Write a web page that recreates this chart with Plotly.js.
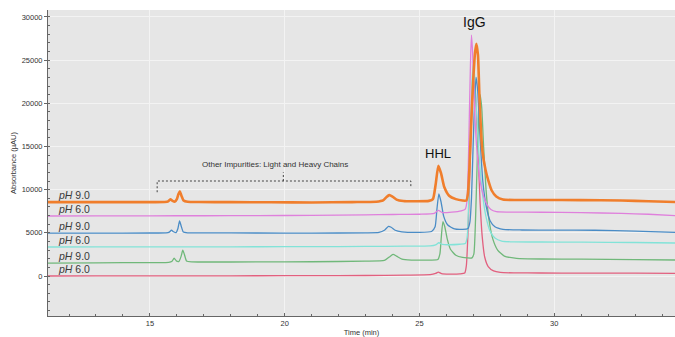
<!DOCTYPE html>
<html>
<head>
<meta charset="utf-8">
<script src="https://cdn.plot.ly/plotly-3.0.1.min.js"></script>
<style>html,body{margin:0;padding:0;background:#fff;}#chart{width:675px;height:337px;}</style>
</head>
<body>
<div id="chart"></div>
<script>
// Time (min) and absorbance (µAU) arrays
var tRed = [11.2, 13, 15, 17, 19, 21, 23, 24.5, 25.4, 25.6, 25.7, 25.82, 26.1, 26.5, 26.68, 26.74, 26.8, 26.86, 26.92, 26.98, 27.04, 27.1, 27.17, 27.25, 27.33, 27.42, 27.55, 27.75, 28.0, 28.5, 29.5, 31, 33, 34.5];
var vRed = [0, 10, 20, 20, 30, 40, 60, 100, 150, 300, 450, 280, 220, 250, 350, 1200, 5000, 11000, 17000, 21000, 22500, 20000, 14500, 8500, 4500, 2200, 1100, 600, 420, 360, 350, 340, 330, 300];

var tGreen = [11.2, 13, 15, 15.7, 15.82, 15.9, 15.98, 16.08, 16.16, 16.22, 16.28, 16.36, 16.55, 17, 19, 21, 23, 23.7, 23.88, 24.02, 24.15, 24.35, 24.7, 25.3, 25.68, 25.76, 25.81, 25.87, 25.94, 26.03, 26.15, 26.35, 26.6, 26.95, 27.02, 27.08, 27.14, 27.2, 27.25, 27.31, 27.38, 27.47, 27.58, 27.72, 27.9, 28.15, 28.6, 29.5, 31, 33, 34.5];
var vGreen = [1500, 1530, 1560, 1580, 1700, 2080, 1750, 1700, 2300, 3000, 2500, 1750, 1640, 1620, 1630, 1650, 1720, 1800, 2200, 2500, 2300, 1950, 1850, 1850, 1900, 2600, 4500, 6300, 5700, 4300, 3100, 2400, 2150, 2100, 2600, 6500, 13000, 18500, 21000, 19500, 15000, 10000, 6500, 4300, 3000, 2300, 2050, 1970, 1950, 1900, 1850];

var tCyan = [11.2, 13, 15, 17, 19, 21, 23, 24.5, 25.4, 25.6, 25.72, 25.85, 26.1, 26.5, 26.7, 26.77, 26.83, 26.89, 26.95, 27.0, 27.05, 27.12, 27.2, 27.32, 27.46, 27.62, 27.8, 28.05, 28.5, 29.5, 31, 33, 34.5];
var vCyan = [3360, 3370, 3380, 3380, 3390, 3400, 3420, 3450, 3480, 3600, 3850, 3650, 3620, 3680, 3750, 4500, 9000, 17000, 22500, 24500, 23000, 19000, 14500, 10000, 7000, 5200, 4400, 4050, 3950, 3940, 3920, 3880, 3820];

var tBlue = [11.2, 13, 15, 15.6, 15.72, 15.8, 15.88, 15.97, 16.04, 16.1, 16.16, 16.24, 16.4, 17, 19, 21, 23, 23.5, 23.7, 23.85, 23.95, 24.1, 24.35, 25, 25.45, 25.58, 25.65, 25.72, 25.8, 25.9, 26.05, 26.3, 26.6, 26.8, 26.87, 26.93, 26.99, 27.05, 27.1, 27.16, 27.24, 27.35, 27.48, 27.62, 27.8, 28.1, 28.8, 30, 31.5, 33, 34.5];
var vBlue = [4960, 4970, 4980, 4990, 5080, 5300, 5120, 5020, 5500, 6370, 5800, 5100, 5000, 4990, 4980, 4970, 5000, 5050, 5300, 5750, 5650, 5300, 5120, 5050, 5150, 5700, 7800, 9500, 8600, 6900, 5900, 5450, 5400, 5500, 6200, 9000, 15000, 20500, 23000, 21500, 16500, 11000, 8000, 6400, 5700, 5400, 5330, 5320, 5300, 5200, 5050];

var tPink = [11.2, 13, 15, 17, 19, 21, 23, 24, 25, 25.55, 25.7, 25.85, 26.2, 26.55, 26.7, 26.76, 26.81, 26.86, 26.9, 26.93, 26.97, 27.02, 27.08, 27.16, 27.26, 27.38, 27.5, 27.65, 27.85, 28.3, 29.5, 31, 32.5, 33.5, 34.5];
var vPink = [6950, 6960, 6970, 6980, 7000, 7020, 7080, 7120, 7150, 7250, 7600, 7350, 7400, 7550, 7750, 8600, 12500, 20000, 25500, 27900, 26000, 21500, 17000, 13500, 10800, 9200, 8300, 7700, 7450, 7400, 7380, 7330, 7250, 7150, 6980];

var tOrange = [11.2, 12.5, 14, 15, 15.55, 15.68, 15.76, 15.84, 15.93, 16.0, 16.06, 16.11, 16.17, 16.25, 16.4, 16.8, 18, 19.5, 21, 22.5, 23.4, 23.65, 23.78, 23.88, 24.0, 24.15, 24.4, 24.9, 25.35, 25.5, 25.6, 25.7, 25.8, 25.92, 26.1, 26.35, 26.6, 26.74, 26.8, 26.86, 26.93, 27.0, 27.06, 27.11, 27.17, 27.23, 27.33, 27.45, 27.55, 27.68, 27.85, 28.1, 28.6, 29.5, 31, 32.5, 33.5, 34.5];
var vOrange = [8560, 8550, 8560, 8560, 8570, 8640, 8880, 8700, 8620, 8900, 9500, 9820, 9300, 8750, 8600, 8570, 8550, 8540, 8520, 8560, 8600, 8750, 9150, 9370, 9200, 8850, 8680, 8650, 8700, 8900, 10600, 12750, 11900, 10300, 9300, 8900, 8750, 8750, 9600, 13000, 18500, 23000, 25800, 26900, 25600, 20400, 14600, 12300, 11100, 9900, 9200, 8850, 8800, 8800, 8790, 8740, 8650, 8560];

var seriesLabels = ['pH 6.0', 'pH 9.0', 'pH 6.0', 'pH 9.0', 'pH 6.0', 'pH 9.0'];
var xTickVals = [15, 20, 25, 30];
var yTickVals = [0, 5000, 10000, 15000, 20000, 25000, 30000];
var impurityText = 'Other Impurities: Light and Heavy Chains';

var series = [
  {t: tRed, v: vRed, color: '#e2607f', width: 1.3},
  {t: tGreen, v: vGreen, color: '#70b87a', width: 1.3},
  {t: tCyan, v: vCyan, color: '#82e3d8', width: 1.3},
  {t: tBlue, v: vBlue, color: '#4a8cc6', width: 1.3},
  {t: tPink, v: vPink, color: '#df80dc', width: 1.3},
  {t: tOrange, v: vOrange, color: '#f07e2c', width: 2.6}
];

var traces = series.map(function (s) {
  return {
    x: s.t, y: s.v, type: 'scatter', mode: 'lines',
    line: {color: s.color, width: s.width, shape: 'spline', smoothing: 0.5},
    hoverinfo: 'skip', showlegend: false
  };
});

var annotations = series.map(function (s, i) {
  var parts = seriesLabels[i].split(' ');
  return {
    x: 11.5, y: s.v[0] + 850, xref: 'x', yref: 'y',
    text: '<i>' + parts[0] + '</i> ' + parts[1],
    showarrow: false, xanchor: 'left', yanchor: 'middle',
    font: {family: 'Arial, Liberation Sans, sans-serif', size: 10.5, color: '#3a3a3a'}
  };
});

annotations.push({
  x: 25.7, y: 14150, xref: 'x', yref: 'y', text: 'HHL', showarrow: false,
  font: {family: 'Arial, Liberation Sans, sans-serif', size: 13, color: '#111'}
});
annotations.push({
  x: 27.05, y: 29450, xref: 'x', yref: 'y', text: 'IgG', showarrow: false,
  font: {family: 'Arial, Liberation Sans, sans-serif', size: 14, color: '#111'}
});
annotations.push({
  x: 19.65, y: 12900, xref: 'x', yref: 'y', text: impurityText, showarrow: false,
  font: {family: 'Arial, Liberation Sans, sans-serif', size: 8, color: '#333'}
});

var dash = {color: '#444', width: 1, dash: '2px,2px'};
var shapes = [
  {type: 'path', xref: 'x', yref: 'y', path: 'M15.27,9700 L15.27,11000 L24.68,11000 L24.68,10300', line: dash},
  {type: 'line', xref: 'x', yref: 'y', x0: 19.95, x1: 19.95, y0: 11000, y1: 12000, line: dash}
];

var tickFont = {family: 'Arial, Liberation Sans, sans-serif', size: 7.5, color: '#333'};

var layout = {
  width: 675, height: 337,
  margin: {l: 48, r: 0, t: 10, b: 21, pad: 0},
  paper_bgcolor: '#ffffff',
  plot_bgcolor: '#e6e6e6',
  showlegend: false,
  xaxis: {
    range: [11.22, 34.48], tickvals: xTickVals, ticktext: xTickVals.map(String),
    showgrid: true, gridcolor: '#f3f3f3', gridwidth: 1, zeroline: false,
    showline: true, linecolor: '#666', linewidth: 1,
    ticks: 'inside', ticklen: 3, tickcolor: '#666',
    minor: {dtick: 1, ticks: 'inside', ticklen: 2, tickcolor: '#666', showgrid: false},
    tickfont: tickFont,
    title: {text: 'Time (min)', font: {family: 'Arial, Liberation Sans, sans-serif', size: 7.5, color: '#333'}, standoff: 2}
  },
  yaxis: {
    range: [-4630, 30800], tickvals: yTickVals, ticktext: yTickVals.map(String),
    showgrid: true, gridcolor: '#f3f3f3', gridwidth: 1, zeroline: false,
    showline: true, linecolor: '#666', linewidth: 1,
    ticks: 'outside', ticklen: 3, tickcolor: '#666',
    minor: {dtick: 1000, ticks: 'inside', ticklen: 2, tickcolor: '#666', showgrid: false},
    tickfont: tickFont,
    title: {text: 'Absorbance (µAU)', font: {family: 'Arial, Liberation Sans, sans-serif', size: 7.5, color: '#333'}, standoff: 4}
  },
  annotations: annotations,
  shapes: shapes
};

Plotly.newPlot('chart', traces, layout, {displayModeBar: false, staticPlot: true});
</script>
</body>
</html>
